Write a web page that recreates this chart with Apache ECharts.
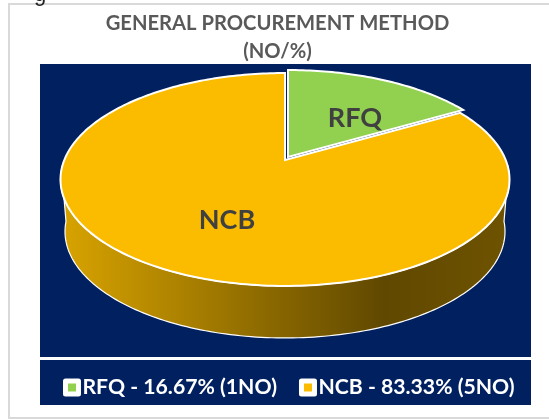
<!DOCTYPE html>
<html>
<head>
<meta charset="utf-8">
<style>html,body{margin:0;padding:0;background:#fff}#c{width:549px;height:419px}</style>
<script src="https://cdn.jsdelivr.net/npm/echarts@6/dist/echarts.min.js"></script>
</head>
<body>
<div id="c"></div>
<script>
const categories = ['RFQ', 'NCB'];
const counts = [1, 5];
const percents = ['16.67%', '83.33%'];
const colors = ['#92D050', '#FBBC00'];
const titleLines = ['GENERAL PROCUREMENT METHOD', '(NO/%)'];

const total = counts.reduce((a, b) => a + b, 0);
const NAVY = '#002060';
const geo = { cx: 285, cy: 160, L: 220.7, K: 102.9, p: 0.183, depth: 52, shrink: 0.98 };

function project(theta, ox, oy, scale) {
  const d = 1 + geo.p * Math.cos(theta);
  const s = scale || 1;
  return [geo.cx + (ox || 0) + s * geo.L * Math.sin(theta) / d,
          geo.cy + (oy || 0) - geo.K * Math.cos(theta) / d];
}
function arcPts(a0, a1, ox, oy, scale) {
  const n = Math.max(2, Math.ceil((a1 - a0) / 0.02));
  const pts = [];
  for (let i = 0; i <= n; i++) pts.push(project(a0 + (a1 - a0) * i / n, ox, oy, scale));
  return pts;
}
function sliceElements(index) {
  let before = 0;
  for (let i = 0; i < index; i++) before += counts[i];
  const a0 = before / total * Math.PI * 2;
  const a1 = (before + counts[index]) / total * Math.PI * 2;
  const explode = index === 0 ? [3, -3] : [0, 0];
  const children = [];
  const wa0 = Math.max(a0, Math.PI / 2 + 0.09), wa1 = Math.min(a1, Math.PI * 1.5 - 0.09);
  if (wa1 > wa0) {
    const top = arcPts(wa0, wa1, explode[0], explode[1]);
    const bottom = arcPts(wa0, wa1, explode[0], explode[1] + geo.depth, geo.shrink).reverse();
    children.push({
      type: 'polygon', shape: { points: top.concat(bottom) },
      style: {
        stroke: '#fff', lineWidth: 1.2,
        fill: new echarts.graphic.LinearGradient(0, 0, 1, 0, [
          { offset: 0, color: '#D9A400' },
          { offset: 0.72, color: '#604800' },
          { offset: 1, color: '#6E5300' }
        ])
      }
    });
  }
  const top = [[geo.cx + explode[0], geo.cy + explode[1]]].concat(arcPts(a0, a1, explode[0], explode[1]));
  children.push({
    type: 'polygon', shape: { points: top },
    style: { fill: colors[index], stroke: '#fff', lineWidth: 2, lineJoin: 'miter' }
  });
  const labelAt = index === 0 ? [355, 118] : [227, 220];
  children.push({
    type: 'text', x: labelAt[0], y: labelAt[1],
    style: { text: categories[index], fill: '#404040', font: 'bold 27px Lato, "Open Sans"', align: 'center', verticalAlign: 'middle' }
  });
  return { type: 'group', children };
}

const order = [1, 0];
const chart = echarts.init(document.getElementById('c'), null, { renderer: 'canvas' });
chart.setOption({
  animation: false,
  backgroundColor: '#fff',
  title: {
    text: titleLines.join('\n'), left: 272.5, top: 5, textAlign: 'center',
    textStyle: { color: '#595959', fontFamily: 'Lato, "Open Sans"', fontWeight: 'bold', fontSize: 20.2, lineHeight: 27.5 }
  },
  legend: {
    data: categories, left: 58, top: 372, itemWidth: 13, itemHeight: 13, itemGap: 22, icon: 'rect',
    itemStyle: { borderColor: '#fff', borderWidth: 5, borderJoin: 'round' },
    formatter: name => {
      const i = categories.indexOf(name);
      return name + ' - ' + percents[i] + ' (' + counts[i] + 'NO)';
    },
    textStyle: { color: '#fff', fontFamily: 'Lato, "Open Sans"', fontWeight: 'bold', fontSize: 21.2, padding: [0, 0, 0, -1] }
  },
  graphic: [
    { type: 'rect', z: -10, shape: { x: 9, y: 4, width: 560, height: 414 }, style: { fill: '#fff', stroke: '#D9D9D9', lineWidth: 2 } },
    { type: 'rect', z: -9, shape: { x: 40, y: 64, width: 491, height: 293 }, style: { fill: NAVY } },
    { type: 'rect', z: -9, shape: { x: 40, y: 360, width: 491, height: 45 }, style: { fill: NAVY } },
    { type: 'text', z: -8, x: 40, y: -16, style: { text: 'g', fill: '#222', font: '22px "Liberation Sans"', align: 'center' } }
  ],
  series: order.map(i => ({
    type: 'custom', name: categories[i], coordinateSystem: 'none',
    silent: true, color: colors[i],
    data: [[counts[i]]],
    renderItem: () => sliceElements(i)
  }))
});
</script>
</body>
</html>
